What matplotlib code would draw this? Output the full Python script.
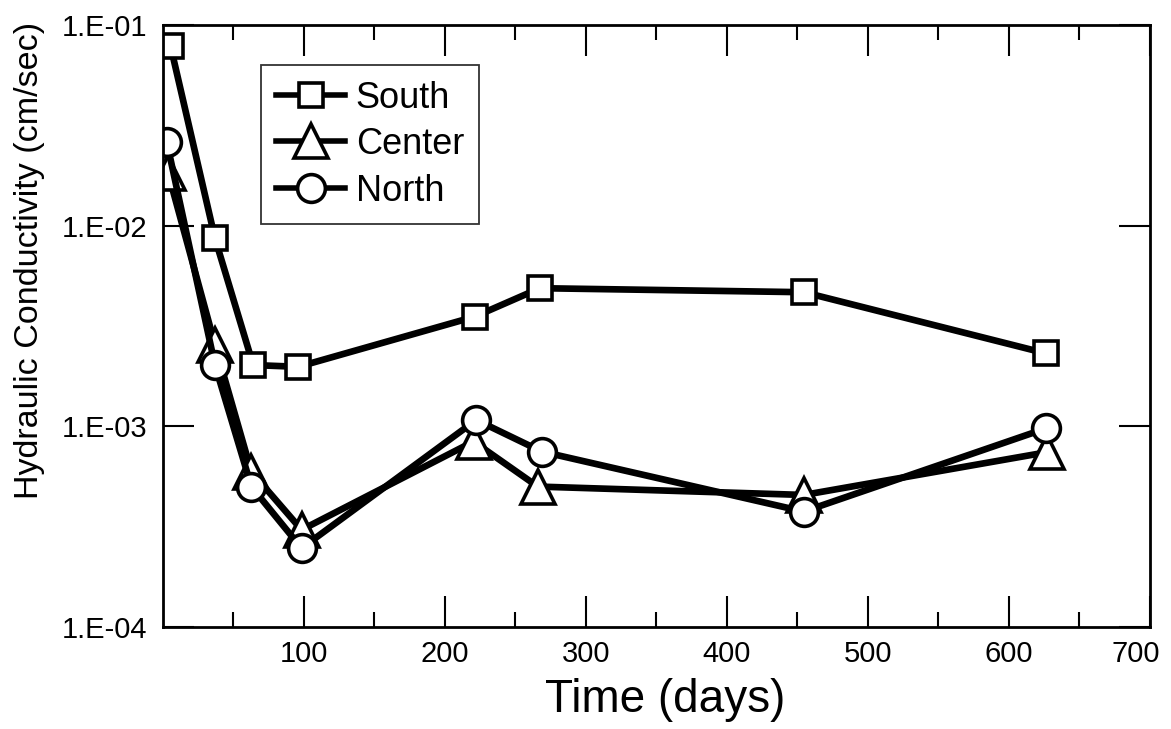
import numpy as np
import matplotlib.pyplot as plt
import matplotlib.transforms as mtransforms
from matplotlib.ticker import FixedLocator, NullFormatter, FuncFormatter

plt.rcParams['font.family'] = ['Liberation Sans', 'DejaVu Sans']

# data
south_days = [5.7, 37.2, 64.3, 96.2, 221.3, 267.5, 454.6, 626.3]
south_k = [0.0786, 0.00865, 0.00202, 0.00198, 0.00352, 0.00488, 0.00466, 0.00231]

center_days = [4.0, 37.2, 63.0, 98.6, 220.5, 266.0, 454.6, 627.0]
center_k = [0.0183, 0.00255, 0.000594, 0.000305, 0.00084, 0.000501, 0.000455, 0.000743]

north_days = [3.0, 37.2, 63.0, 98.6, 222.4, 269.0, 454.6, 626.3]
north_k = [0.0262, 0.00202, 0.000501, 0.000247, 0.001076, 0.000748, 0.000376, 0.000977]

x_ticks = [100, 200, 300, 400, 500, 600, 700]
y_ticks = [1e-4, 1e-3, 1e-2, 1e-1]

W, H = 1171, 729
fig = plt.figure(figsize=(W / 100, H / 100), dpi=100)
ax = fig.add_axes([162.5 / W, 1 - 627 / H, 987.5 / W, 602 / H])

lw = 4.8
mew = 2.6
ax.plot(south_days, south_k, '-s', color='black', lw=lw, ms=17,
        mfc='white', mec='black', mew=mew, label='South')
ax.plot(center_days, center_k, '-^', color='black', lw=lw, ms=25,
        mfc='white', mec='black', mew=mew, label='Center')
ax.plot(north_days, north_k, '-o', color='black', lw=lw, ms=20,
        mfc='white', mec='black', mew=mew, label='North')

ax.set_yscale('log')
ax.set_xlim(0, 700)
ax.set_ylim(1e-4, 1e-1)

ax.xaxis.set_major_locator(FixedLocator(x_ticks))
ax.xaxis.set_minor_locator(FixedLocator(np.arange(50, 700, 100)))
ax.xaxis.set_minor_formatter(NullFormatter())
ax.yaxis.set_major_locator(FixedLocator(y_ticks))
ax.yaxis.set_minor_locator(FixedLocator([]))
ax.yaxis.set_major_formatter(FuncFormatter(lambda v, p: "1.E-%02d" % round(-np.log10(v))))

ax.tick_params(which='both', direction='in', top=True, right=True, width=1.5)
ax.tick_params(which='major', length=22, labelsize=21)
ax.tick_params(axis='x', which='major', pad=9)
ax.tick_params(axis='y', which='major', pad=11)
ax.tick_params(which='minor', length=11)
for s in ax.spines.values():
    s.set_linewidth(2)

# last x label sits a bit left of its tick so it stays inside the figure
fig.canvas.draw()
last = ax.get_xticklabels()[-1]
last.set_transform(last.get_transform() + mtransforms.ScaledTranslation(-14 / 100, 0, fig.dpi_scale_trans))

fig.text(665 / W, 1 - 700 / H, 'Time (days)', fontsize=33, ha='center', va='center')
fig.text(30 / W, 1 - 260 / H, 'Hydraulic Conductivity (cm/sec)', fontsize=24.5,
         rotation=90, ha='center', va='center')

leg = ax.legend(loc='upper left', bbox_to_anchor=(0.1, 0.933), fontsize=26,
                frameon=True, fancybox=False, edgecolor='black',
                handlelength=1.9, handletextpad=0.3, borderpad=0.42,
                labelspacing=0.32, borderaxespad=0)
leg.get_frame().set_linewidth(1.3)
for h in leg.get_lines():
    h.set_linewidth(4)

fig.savefig('out.png', dpi=100)
